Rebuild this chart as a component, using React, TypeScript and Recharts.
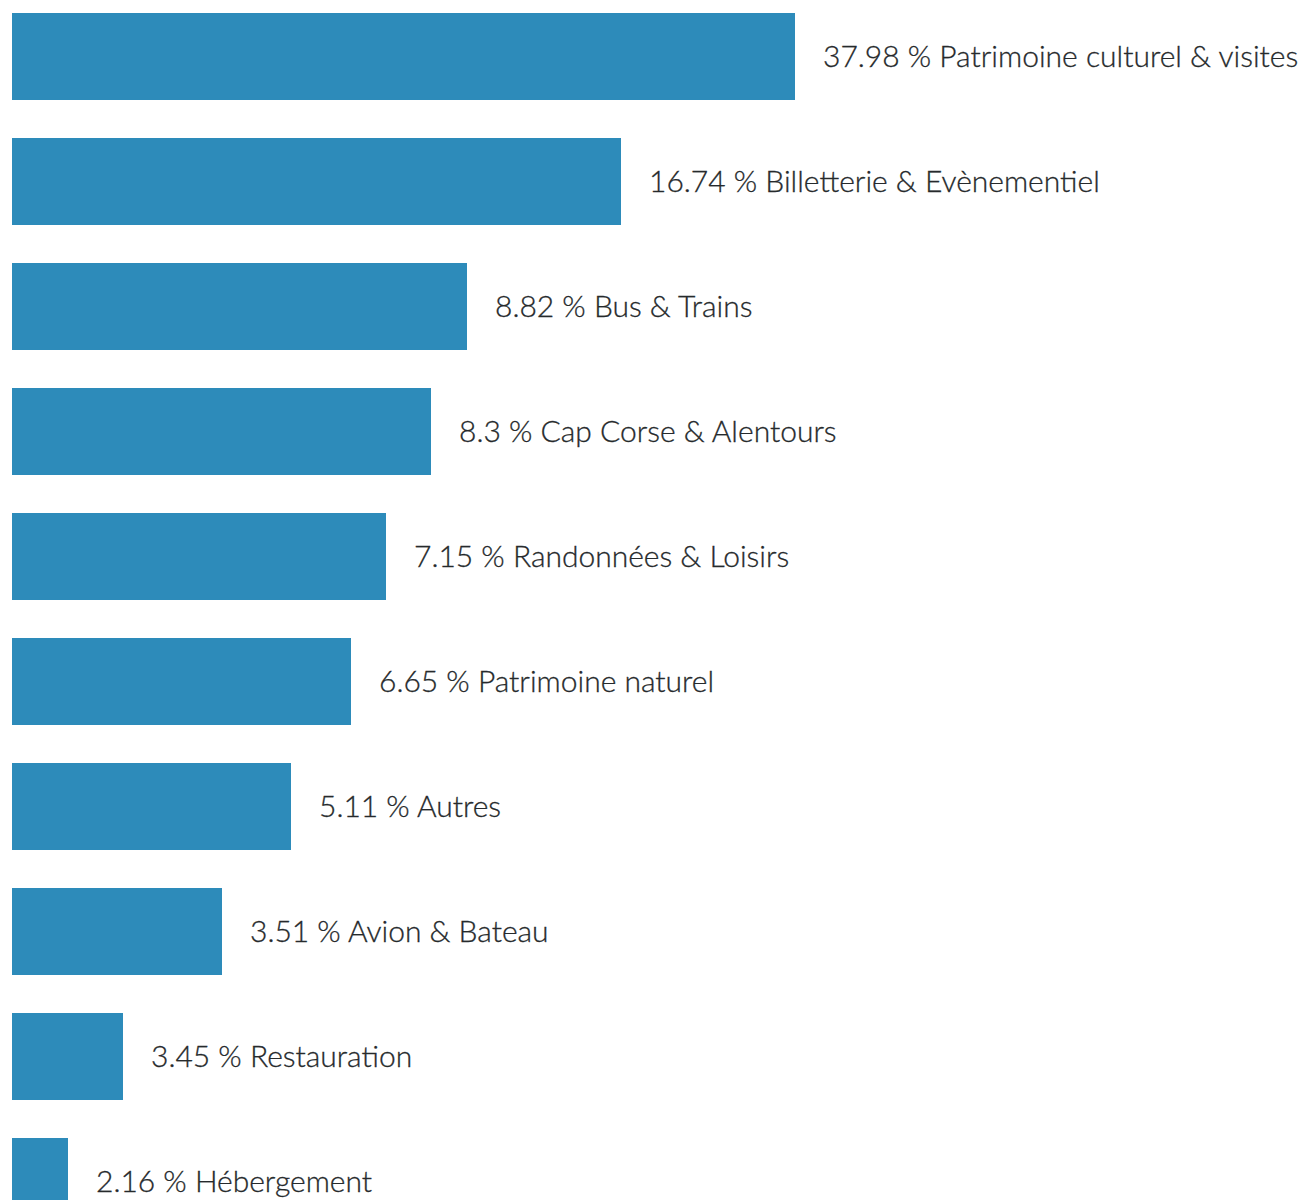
import { Bar, BarChart, LabelList, XAxis, YAxis } from 'recharts'

// categories and shares as printed next to each bar
const categories = [
  'Patrimoine culturel & visites',
  'Billetterie & Evènementiel',
  'Bus & Trains',
  'Cap Corse & Alentours',
  'Randonnées & Loisirs',
  'Patrimoine naturel',
  'Autres',
  'Avion & Bateau',
  'Restauration',
  'Hébergement',
]
const shares = [37.98, 16.74, 8.82, 8.3, 7.15, 6.65, 5.11, 3.51, 3.45, 2.16]
// the drawn bar lengths are not proportional to the shares, so they are read separately
const drawnLength = [783, 609, 455, 419, 374, 339, 279, 210, 111, 56]

const data = categories.map((name, i) => ({
  name,
  share: shares[i],
  length: drawnLength[i],
}))

const BAR_COLOR = '#2d8bba'
const TEXT_COLOR = '#262a2c'

function SideLabel(props: any) {
  const { x, y, width, height, index } = props
  const d = data[index]
  return (
    <text
      x={Number(x) + Number(width) + 28}
      y={Number(y) + Number(height) / 2 - 2}
      dominantBaseline="central"
      fill={TEXT_COLOR}
      stroke={TEXT_COLOR}
      strokeWidth={0.3}
      fontSize={30}
      fontWeight={300}
      fontFamily="Lato, sans-serif"
    >
      {`${d.share} % ${d.name}`}
    </text>
  )
}

export default function App() {
  return (
    <div style={{ position: 'absolute', left: 0, top: -6, background: '#fff' }}>
      <BarChart
        width={1300}
        height={1250}
        data={data}
        layout="vertical"
        margin={{ top: 0, right: 0, bottom: 0, left: 12 }}
        barCategoryGap={0}
      >
        <XAxis type="number" domain={[0, 1288]} hide />
        <YAxis type="category" dataKey="name" hide />
        <Bar dataKey="length" fill={BAR_COLOR} barSize={87} isAnimationActive={false}>
          <LabelList dataKey="share" content={<SideLabel />} />
        </Bar>
      </BarChart>
    </div>
  )
}
